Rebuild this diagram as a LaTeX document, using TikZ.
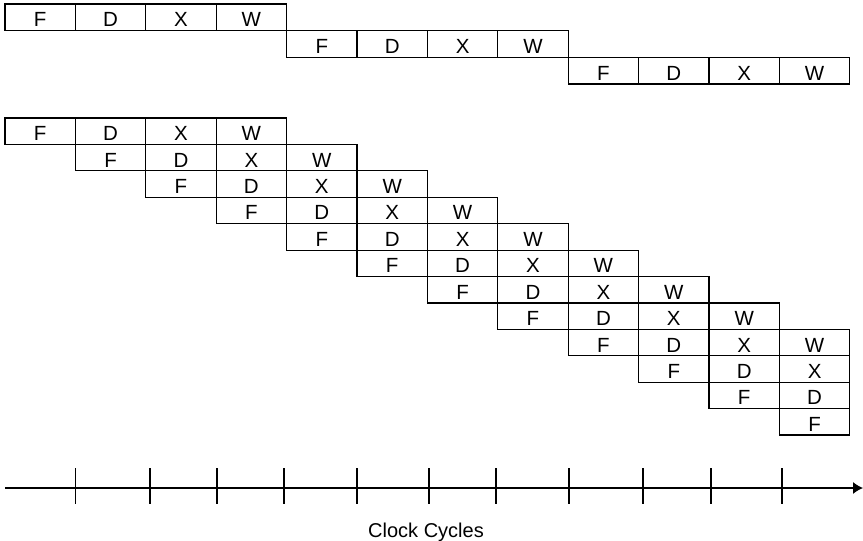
\documentclass[tikz,border=0pt]{standalone}
\usepackage{fontspec}
\setmainfont{Liberation Sans}
\usetikzlibrary{arrows.meta}
\begin{document}
\begin{tikzpicture}[x=1pt,y=-1pt,
  cell/.style={draw=black,line width=1.2pt,rectangle,minimum width=70.4pt,minimum height=#1,
    inner sep=0pt,text height=19pt,text depth=0pt,font=\fontsize{20.5}{21}\selectfont},
  cell/.default=26.42pt,
  axisline/.style={line width=1.2pt,-{Latex[length=10pt,width=12pt]}},
  tick/.style={line width=1.2pt},
  axislabel/.style={anchor=base,inner sep=0pt,font=\fontsize{20}{24}\selectfont}]
\useasboundingbox (0,0) rectangle (863,541);
% top: sequential execution
\foreach \r in {0,1,2} {
  \foreach \t [count=\k from 0] in {F,D,X,W} {
    \node[cell=26.67pt] (t-\r-\k) at ({5+(4*\r+\k+0.5)*70.4},{4+(\r+0.5)*26.67}) {\t};
  }
}
% bottom: pipelined execution
\foreach \r in {0,...,11} {
  \foreach \t [count=\k from 0] in {F,D,X,W} {
    \pgfmathtruncatemacro\col{\r+\k}
    \ifnum\col<12
      \node[cell] (l-\r-\k) at ({5+(\col+0.5)*70.4},{118+(\r+0.5)*26.42}) {\t};
    \fi
  }
}
% time axis
\coordinate (axs) at (5,488);
\coordinate (axe) at (863,488);
\draw[axisline] (axs) -- (axe);
\foreach \x [count=\i] in {75.5,150,217,284,357,429,496,569,643,711,782} {
  \coordinate (tt\i) at (\x,468);
  \coordinate (tb\i) at (\x,504);
  \draw[tick] (tt\i) -- (tb\i);
}
\node[axislabel] (lbl) at (426,537) {Clock Cycles};
\end{tikzpicture}
\end{document}
